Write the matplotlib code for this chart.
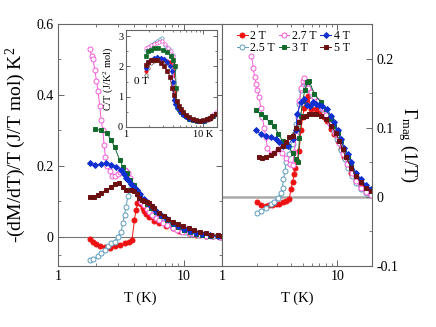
import numpy as np
import matplotlib
matplotlib.use("Agg")
import matplotlib.pyplot as plt
from matplotlib.ticker import FixedLocator, FixedFormatter, NullFormatter, LogLocator

plt.rcParams['font.family'] = ['Liberation Serif', 'DejaVu Serif']
plt.rcParams['mathtext.fontset'] = 'custom'
plt.rcParams['mathtext.rm'] = 'Liberation Serif'
plt.rcParams['mathtext.it'] = 'Liberation Serif:italic'

# ---------------- data: left panel  -(dM/dT)/T ----------------
L2_T = [1.79,1.9,2.02,2.14,2.34,2.57,2.81,3.08,3.37,3.69,3.87,4.04,4.16,4.27,4.4,4.56,4.7,4.84,5.0,5.3,5.8,6.35,7.2,8.1,9.2,10.9,12.5,14.8,17,19.5]
L2_V = [-0.007,-0.013,-0.020,-0.025,-0.029,-0.032,-0.027,-0.023,-0.018,-0.013,-0.008,0.048,0.076,0.095,0.115,0.092,0.081,0.072,0.065,0.055,0.045,0.038,0.030,0.024,0.017,0.010,0.006,0.003,0.002,0.001]
L25_T = [1.79,1.9,2.08,2.21,2.34,2.49,2.64,2.81,2.98,3.17,3.27,3.37,3.47,3.58,3.69,3.85,4.05,4.3,4.6,5.0,5.4,5.9,6.5,7.2,8.0,9.0,10.2,11.5,13,15,17,19.5]
L25_V = [-0.065,-0.063,-0.055,-0.046,-0.037,-0.027,-0.018,-0.013,0.001,0.015,0.039,0.062,0.085,0.114,0.132,0.14,0.135,0.125,0.105,0.092,0.08,0.066,0.054,0.042,0.032,0.022,0.014,0.009,0.005,0.003,0.002,0.001]
L27_T = [1.79,1.85,1.9,1.96,2.02,2.08,2.14,2.2,2.27,2.32,2.38,2.45,2.57,2.7,2.85,2.98,3.08,3.17,3.27,3.37,3.48,3.58,3.75,3.92,4.1,4.3,4.56,4.8,5.05,5.3,5.6,6.0,6.35,6.8,7.3,8.1,8.8,9.7,10.9,12,13.3,14.8,16.5,18.9]
L27_V = [0.529,0.51,0.5,0.47,0.44,0.41,0.37,0.33,0.30,0.26,0.225,0.2,0.185,0.172,0.172,0.178,0.183,0.189,0.19,0.189,0.185,0.179,0.165,0.146,0.135,0.12,0.098,0.09,0.08,0.071,0.062,0.054,0.048,0.04,0.034,0.026,0.02,0.015,0.010,0.007,0.005,0.003,0.002,0.001]
L3_T = [1.98,2.21,2.45,2.64,2.81,3.08,3.27,3.5,3.75,4.0,4.27,4.5,4.8,5.1,5.5,6.0,6.6,7.3,8.1,9.0,10,11.2,12.5,14,16,18.5]
L3_V = [0.304,0.30,0.292,0.273,0.254,0.217,0.198,0.18,0.16,0.145,0.13,0.118,0.105,0.094,0.082,0.07,0.058,0.047,0.037,0.028,0.02,0.014,0.009,0.006,0.003,0.002]
L4_T = [1.79,1.96,2.21,2.42,2.64,2.9,3.17,3.35,3.47,3.58,3.8,4.04,4.27,4.5,4.8,5.1,5.5,6.0,6.6,7.3,8.1,9.0,10,11.2,12.5,14,16,18.5]
L4_V = [0.209,0.203,0.205,0.207,0.203,0.198,0.189,0.178,0.165,0.161,0.15,0.142,0.132,0.12,0.108,0.097,0.086,0.074,0.062,0.05,0.04,0.031,0.023,0.016,0.011,0.007,0.004,0.002]
L5_T = [1.79,1.92,2.08,2.21,2.42,2.64,2.81,3.04,3.27,3.47,3.8,4.04,4.23,4.42,4.64,4.84,5.05,5.3,5.55,5.8,6.35,6.9,7.5,8.1,8.9,9.8,10.9,12,13.3,14.8,16.5,18.5,20]
L5_V = [0.112,0.112,0.118,0.125,0.132,0.142,0.148,0.151,0.142,0.132,0.132,0.130,0.12,0.109,0.104,0.1,0.097,0.095,0.088,0.081,0.067,0.058,0.05,0.043,0.036,0.03,0.025,0.019,0.014,0.010,0.006,0.004,0.003]

# ---------------- data: right panel  Gamma_mag ----------------
R2_T = [2.0,2.2,2.4,2.56,2.74,2.93,3.13,3.35,3.58,3.83,3.96,4.09,4.23,4.31,4.46,4.67,4.83,5.0,5.17,5.35,5.6,5.9,6.5,6.96,7.7,8.2,8.8,9.4,10.1,10.8,11.5,12.3,13.2,14.5,16.0,17.8,19.7]
R2_V = [-0.007,-0.012,-0.013,-0.012,-0.012,-0.011,-0.010,-0.008,-0.006,-0.003,0.011,0.021,0.033,0.042,0.052,0.067,0.096,0.115,0.129,0.14,0.146,0.127,0.127,0.122,0.115,0.110,0.098,0.091,0.081,0.069,0.057,0.047,0.035,0.023,0.016,0.009,0.004]
R25_T = [2.0,2.2,2.4,2.65,2.83,3.03,3.24,3.35,3.41,3.53,3.58,3.83,4.09,4.23,4.4,4.55,4.67,4.83,5.0,5.17,5.35,5.5,5.7,6.0,6.4,6.9,7.4,8.0,8.6,9.3,10.0,10.8,11.6,12.5,13.5,14.6,16,17.8,19.7]
R25_V = [-0.023,-0.020,-0.016,-0.011,-0.008,-0.001,0.005,0.013,0.026,0.038,0.050,0.062,0.076,0.091,0.105,0.12,0.134,0.155,0.161,0.166,0.163,0.16,0.154,0.148,0.142,0.135,0.127,0.118,0.107,0.095,0.083,0.068,0.055,0.042,0.03,0.02,0.012,0.006,0.002]
R27_T = [1.8,1.87,1.92,1.99,2.03,2.1,2.17,2.24,2.32,2.4,2.48,2.65,2.83,3.03,3.3,3.6,3.9,4.1,4.25,4.4,4.55,4.7,4.85,5.0,5.15,5.35,5.6,5.9,6.3,6.8,7.4,8.0,8.7,9.5,10.3,11.2,12.2,13.3,14.6,16,17.8,19.7]
R27_V = [0.203,0.187,0.173,0.163,0.154,0.144,0.129,0.115,0.10,0.086,0.071,0.062,0.064,0.069,0.064,0.056,0.048,0.046,0.065,0.09,0.115,0.138,0.158,0.168,0.172,0.166,0.158,0.152,0.145,0.138,0.128,0.118,0.105,0.092,0.078,0.062,0.048,0.035,0.023,0.013,0.007,0.003]
R3_T = [1.96,2.17,2.37,2.6,2.83,3.09,3.35,3.7,4.09,4.37,4.55,4.7,4.83,5.0,5.25,5.5,5.7,6.3,7.2,8.0,8.8,9.4,10.1,10.8,11.5,12.3,13.2,14.5,16,17.8,19.7]
R3_V = [0.125,0.12,0.115,0.108,0.103,0.091,0.081,0.074,0.064,0.055,0.05,0.085,0.117,0.139,0.155,0.166,0.168,0.149,0.137,0.127,0.113,0.103,0.093,0.081,0.069,0.057,0.045,0.033,0.023,0.016,0.011]
R4_T = [1.96,2.17,2.4,2.65,2.93,3.13,3.35,3.7,4.09,4.37,4.5,4.83,5.17,5.5,5.8,6.1,6.5,6.9,7.4,8.2,8.8,9.4,10.1,10.8,11.5,12.3,13.2,14.5,16,17.8,19.7]
R4_V = [0.096,0.091,0.088,0.086,0.084,0.079,0.074,0.074,0.084,0.096,0.12,0.137,0.142,0.133,0.132,0.137,0.135,0.133,0.131,0.127,0.117,0.108,0.096,0.084,0.071,0.062,0.050,0.035,0.026,0.017,0.011]
R5_T = [2.1,2.24,2.4,2.65,2.83,3.09,3.35,3.62,3.83,4.09,4.37,4.67,5.0,5.35,5.7,6.2,6.6,7.2,8.0,8.8,9.7,10.4,11.1,11.9,13.2,14.5,16,17.8,19.7]
R5_V = [0.057,0.056,0.057,0.061,0.064,0.069,0.074,0.079,0.086,0.088,0.10,0.108,0.115,0.117,0.12,0.12,0.12,0.117,0.113,0.103,0.093,0.081,0.069,0.057,0.042,0.030,0.021,0.013,0.009]

# ---------------- data: inset  C/T ----------------
I0_T = [1.8,1.95,2.1,2.3,2.5,2.8,3.1,3.4,3.7,4.0,4.2,4.35,4.5,4.7,5.0,5.4,5.9,6.5,7.2,8.0,9.0,10.0,11.0,12.0,13.0,14.5]
I0_V = [1.72,1.95,2.1,2.18,2.2,2.2,2.17,2.12,2.07,2.0,1.9,0.9,0.75,0.62,0.5,0.4,0.32,0.26,0.22,0.2,0.19,0.2,0.23,0.28,0.33,0.42]
I2_T = [1.8,1.95,2.1,2.3,2.5,2.8,3.1,3.4,3.7,4.0,4.2,4.3,4.45,4.7,5.0,5.4,5.9,6.5,7.2,8.0,9.0,10.0,11.0,12.0,13.0,14.5]
I2_V = [1.85,2.1,2.2,2.25,2.27,2.25,2.22,2.18,2.13,2.08,2.0,1.2,0.8,0.65,0.52,0.42,0.33,0.27,0.22,0.2,0.19,0.2,0.23,0.28,0.34,0.44]
I25_T = [1.8,1.95,2.1,2.3,2.5,2.76,2.9,3.2,3.5,3.72,4.03,4.15,4.25,4.5,4.8,5.2,5.7,6.3,7.0,8.0,9.0,10.0,11.0,12.0,13.0,14.5]
I25_V = [2.55,2.65,2.72,2.78,2.85,2.9,2.93,2.7,2.6,2.54,2.38,1.5,0.9,0.7,0.58,0.47,0.38,0.3,0.24,0.2,0.19,0.2,0.24,0.3,0.36,0.46]
I27_T = [1.8,1.95,2.1,2.3,2.5,2.7,2.9,3.2,3.5,3.8,4.0,4.1,4.2,4.4,4.7,5.0,5.5,6.0,6.7,7.5,8.5,9.5,10.5,11.5,12.5,13.5,14.5]
I27_V = [2.6,2.65,2.7,2.75,2.78,2.82,2.85,2.75,2.6,2.5,2.35,1.6,0.9,0.75,0.62,0.53,0.43,0.36,0.29,0.24,0.21,0.21,0.24,0.29,0.35,0.42,0.5]
I3_T = [1.8,1.95,2.1,2.3,2.6,3.0,3.4,3.8,4.1,4.33,4.45,4.55,4.8,5.1,5.5,6.0,6.6,7.3,8.2,9.2,10.2,11.2,12.2,13.3,14.5]
I3_V = [2.35,2.5,2.55,2.6,2.6,2.55,2.48,2.35,2.2,2.0,1.3,0.73,0.6,0.5,0.42,0.35,0.28,0.23,0.2,0.19,0.21,0.25,0.3,0.36,0.44]
I4_T = [1.8,1.95,2.1,2.3,2.5,2.8,3.1,3.4,3.7,3.9,4.0,4.12,4.3,4.6,5.0,5.5,6.0,6.6,7.3,8.2,9.2,10.2,11.2,12.2,13.3,14.5]
I4_V = [1.95,2.15,2.22,2.28,2.3,2.28,2.23,2.15,2.0,1.85,1.5,0.89,0.75,0.62,0.5,0.4,0.34,0.28,0.23,0.2,0.19,0.21,0.25,0.3,0.36,0.44]
I5_T = [1.8,1.95,2.1,2.3,2.5,2.8,3.1,3.4,3.72,3.92,4.2,4.5,4.8,5.1,5.5,6.0,6.6,7.3,8.0,9.0,10.0,11.0,12.0,13.0,14.5]
I5_V = [2.05,2.15,2.2,2.22,2.2,2.12,2.0,1.85,1.66,1.28,1.05,0.85,0.7,0.58,0.48,0.4,0.33,0.27,0.23,0.21,0.22,0.25,0.3,0.35,0.42]

LABELS = ['2 T', '2.5 T', '2.7 T', '3 T', '4 T', '5 T']
LEFT_TICKS = [0, 0.2, 0.4, 0.6]
LEFT_TICKLABELS = ['0', '0.2', '0.4', '0.6']
RIGHT_TICKS = [-0.1, 0, 0.1, 0.2]
RIGHT_TICKLABELS = ['-0.1', '0', '0.1', '0.2']
INSET_YTICKS = [0, 1, 2, 3]
INSET_XTICKLABELS = ['1', '10 K']

# styles
C2, C25, C27, C3, C4, C5, C0 = '#ee1111', '#5e9cbc', '#f45ad6', '#116a2c', '#0f2fd0', '#6a1010', '#555555'
styles = [
    dict(color=C2, marker='o', mfc=C2),
    dict(color=C25, marker='o', mfc='white'),
    dict(color=C27, marker='o', mfc='white'),
    dict(color=C3, marker='s', mfc=C3),
    dict(color=C4, marker='D', mfc=C4),
    dict(color=C5, marker='s', mfc=C5),
]
msizes = [3.6, 3.6, 3.6, 3.4, 3.0, 3.4]
SPINE = '#666666'

fig = plt.figure(figsize=(4.36, 3.27), dpi=100)
axL = fig.add_axes([58/436, 1-266/327, 164/436, 242/327])
axR = fig.add_axes([222/436, 1-266/327, 150/436, 242/327])
axI = fig.add_axes([126/436, 1-127/327, 91/436, 97/327])

def style_ax(ax, fs=10):
    for s in ax.spines.values():
        s.set_color(SPINE)
        s.set_linewidth(0.8)
    ax.tick_params(which='both', direction='in', color=SPINE, labelsize=fs, pad=3)
    ax.tick_params(which='major', length=4, width=0.7)
    ax.tick_params(which='minor', length=2.2, width=0.6)

# ---- left
axL.set_xscale('log')
axL.set_xlim(1, 20)
axL.set_ylim(-0.082, 0.6)
axL.axhline(0, color='#777777', lw=0.8, zorder=1)
left_sets = [(L2_T, L2_V), (L25_T, L25_V), (L27_T, L27_V), (L3_T, L3_V), (L4_T, L4_V), (L5_T, L5_V)]
for (t, v), st, ms in zip(left_sets, styles, msizes):
    axL.plot(t, v, lw=0.7, ms=ms, mew=0.7, color=st['color'], marker=st['marker'], mfc=st['mfc'], mec=st['color'])
style_ax(axL)
axL.yaxis.set_major_locator(FixedLocator(LEFT_TICKS))
axL.yaxis.set_major_formatter(FixedFormatter(LEFT_TICKLABELS))
axL.yaxis.set_minor_locator(FixedLocator([-0.05, 0.1, 0.3, 0.5]))
axL.xaxis.set_major_locator(FixedLocator([1, 10]))
axL.xaxis.set_major_formatter(FixedFormatter(['1', '10']))
axL.xaxis.set_minor_locator(LogLocator(base=10, subs=np.arange(2, 10)))
axL.xaxis.set_minor_formatter(NullFormatter())
axL.tick_params(which='both', top=True, right=True, labelright=False)
axL.set_xlabel('T (K)', fontsize=10.5, labelpad=6)
axL.set_ylabel('-(dM/dT)/T (J/T mol) K$^2$', fontsize=14, labelpad=6)

# ---- right
axR.set_xscale('log')
axR.set_xlim(1, 20)
axR.set_ylim(-0.1, 0.25)
axR.axhline(0, color='#aaaaaa', lw=1.8, zorder=1)
right_sets = [(R2_T, R2_V), (R25_T, R25_V), (R27_T, R27_V), (R3_T, R3_V), (R4_T, R4_V), (R5_T, R5_V)]
handles = []
for (t, v), st, ms, lab in zip(right_sets, styles, msizes, LABELS):
    h, = axR.plot(t, v, lw=0.7, ms=ms, mew=0.7, color=st['color'], marker=st['marker'], mfc=st['mfc'], mec=st['color'], label=lab)
    handles.append(h)
style_ax(axR)
axR.yaxis.tick_right()
axR.yaxis.set_label_position('right')
axR.yaxis.set_major_locator(FixedLocator(RIGHT_TICKS))
axR.yaxis.set_major_formatter(FixedFormatter(RIGHT_TICKLABELS))
axR.yaxis.set_minor_locator(FixedLocator([-0.05, 0.05, 0.15]))
axR.xaxis.set_major_locator(FixedLocator([1, 10]))
axR.xaxis.set_major_formatter(FixedFormatter(['1', '10']))
axR.xaxis.set_minor_locator(LogLocator(base=10, subs=np.arange(2, 10)))
axR.xaxis.set_minor_formatter(NullFormatter())
axR.tick_params(which='both', top=True, left=False, right=True)
axR.set_xlabel('T (K)', fontsize=10.5, labelpad=6)
axR.set_ylabel(r'$\Gamma_{\rm mag}$ (1/T)', fontsize=13, rotation=270, labelpad=16)
axR.legend(handles=handles, ncol=3, loc='upper left', bbox_to_anchor=(0.06, 1.0),
           frameon=False, fontsize=8.5, handlelength=0.9, handletextpad=0.25,
           columnspacing=0.3, labelspacing=0.05, borderpad=0.3, borderaxespad=0.2)

# ---- inset
axI.set_xscale('log')
axI.set_xlim(1, 15)
axI.set_ylim(0, 3.2)
inset_sets = [(I0_T, I0_V, dict(color=C0, marker='o', mfc='white')),
              (I2_T, I2_V, styles[0]), (I25_T, I25_V, styles[1]), (I27_T, I27_V, styles[2]),
              (I3_T, I3_V, styles[3]), (I4_T, I4_V, styles[4]), (I5_T, I5_V, styles[5])]
for t, v, st in inset_sets:
    axI.plot(t, v, lw=0.6, ms=2.4, mew=0.5, color=st['color'], marker=st['marker'], mfc=st['mfc'], mec=st['color'])
style_ax(axI, fs=7.5)
axI.tick_params(which='both', top=True, right=True, pad=2)
axI.tick_params(which='major', length=3)
axI.tick_params(which='minor', length=1.6)
axI.yaxis.set_major_locator(FixedLocator(INSET_YTICKS))
axI.yaxis.set_minor_locator(FixedLocator([0.5, 1.5, 2.5]))
axI.xaxis.set_major_locator(FixedLocator([1, 10]))
axI.xaxis.set_major_formatter(FixedFormatter(INSET_XTICKLABELS))
axI.xaxis.set_minor_locator(LogLocator(base=10, subs=np.arange(2, 10)))
axI.xaxis.set_minor_formatter(NullFormatter())
axI.set_ylabel('C/T (J/K$^2$ mol)', fontsize=7.5, labelpad=2)
axI.text(1.27, 1.5, '0 T', fontsize=8, ha='left', va='center')

fig.savefig('out.png', dpi=100)
